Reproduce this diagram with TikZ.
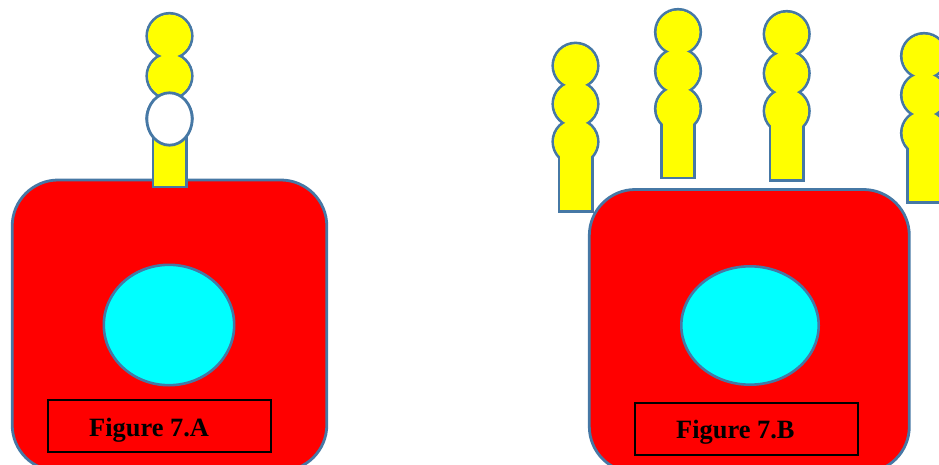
\documentclass[tikz,border=0pt]{standalone}
\usepackage{fontspec}
\setmainfont{Liberation Serif}
\usepackage{tikz}
\usetikzlibrary{shapes.geometric, positioning}
\definecolor{cellblue}{RGB}{70,120,165}
\definecolor{cellred}{RGB}{255,0,0}
\definecolor{beadyellow}{RGB}{255,255,0}
\definecolor{corecyan}{RGB}{0,255,255}

\begin{document}
\begin{tikzpicture}[
                x=1pt, y=-1pt,
                cellbody/.style={draw=cellblue, line width=2.8pt, fill=cellred, rectangle, rounded corners=46pt, inner sep=0pt, outer sep=0pt},
                nucleus/.style={draw=cellblue, line width=2.6pt, fill=corecyan, ellipse, inner sep=0pt, outer sep=0pt},
                figbox/.style={draw=black, line width=2pt, rectangle, minimum width=223pt, minimum height=52pt, inner sep=0pt},
                figlabel/.style={font=\fontsize{26.4}{26.4}\selectfont\bfseries, inner sep=0pt, anchor=base west},
                beadline/.style={draw=cellblue, line width=2.8pt, circle, minimum size=45.4pt, inner sep=0pt, outer sep=0pt},
                beadfill/.style={fill=beadyellow, circle, minimum size=42.8pt, inner sep=0pt, outer sep=0pt},
                stemline/.style={draw=cellblue, line width=2.8pt, rectangle, minimum width=33.2pt, inner sep=0pt, outer sep=0pt},
                stemfill/.style={fill=beadyellow, rectangle, inner sep=0pt, outer sep=0pt},
                whitebead/.style={draw=cellblue, line width=2.8pt, fill=white, ellipse, minimum width=45.4pt, minimum height=52.4pt, inner sep=0pt, outer sep=0pt}
            ]
            \useasboundingbox (0,0) rectangle (939,465);

            % Zellen
            \node[cellbody, minimum width=314.6pt, minimum height=291pt] (bodyA) at (169.5,325.5) {};
            \node[cellbody, minimum width=320pt, minimum height=283pt] (bodyB) at (749.3,331) {};

            % Zellkerne
            \node[nucleus, minimum width=130.4pt, minimum height=120.4pt] (nucleusA) at (169,325) {};
            \node[nucleus, minimum width=137.4pt, minimum height=118.4pt] (nucleusB) at (750,325.5) {};

            % Fortsatz mit Perlen: x, Perle 1, Perle 2, Perle 3, Stielende, Name
            \foreach \xp/\ya/\yb/\yc/\yend/\tag in {169.5/36/76/118/187/A, 575.5/65.7/104/141.7/211.5/B, 678/32/71/108.7/178/C, 786.7/34/73.3/111/180.3/D, 924/56/95/133/202.3/E} {
                \node[stemline, minimum height=\yend pt-\yc pt] (stem\tag) at (\xp,{(\yc+\yend)/2}) {};
                \node[beadline] (bead\tag a) at (\xp,\ya) {};
                \node[beadline] (bead\tag b) at (\xp,\yb) {};
                \node[beadline] (bead\tag c) at (\xp,\yc) {};
                % Innenlinien wieder zudecken
                \node[stemfill, minimum width=30.6pt, minimum height=\yend pt-\yc pt-1.3pt] (stemfill\tag) at (\xp,{(\yc+\yend)/2-0.65}) {};
                \node[beadfill] at (\xp,\ya) {};
                \node[beadfill] at (\xp,\yb) {};
                \node[beadfill] at (\xp,\yc) {};
            }

            % weisse Perle an der ersten Zelle
            \node[whitebead] (beadwhite) at (169.5,119) {};

            % Beschriftung
            \node[figbox] (boxA) at (159.5,426) {};
            \node[figbox] (boxB) at (746.5,429) {};
            \node[figlabel] (labelA) at (89,436) {Figure 7.A};
            \node[figlabel] (labelB) at (676,438) {Figure 7.B};

        \end{tikzpicture}
\end{document}
